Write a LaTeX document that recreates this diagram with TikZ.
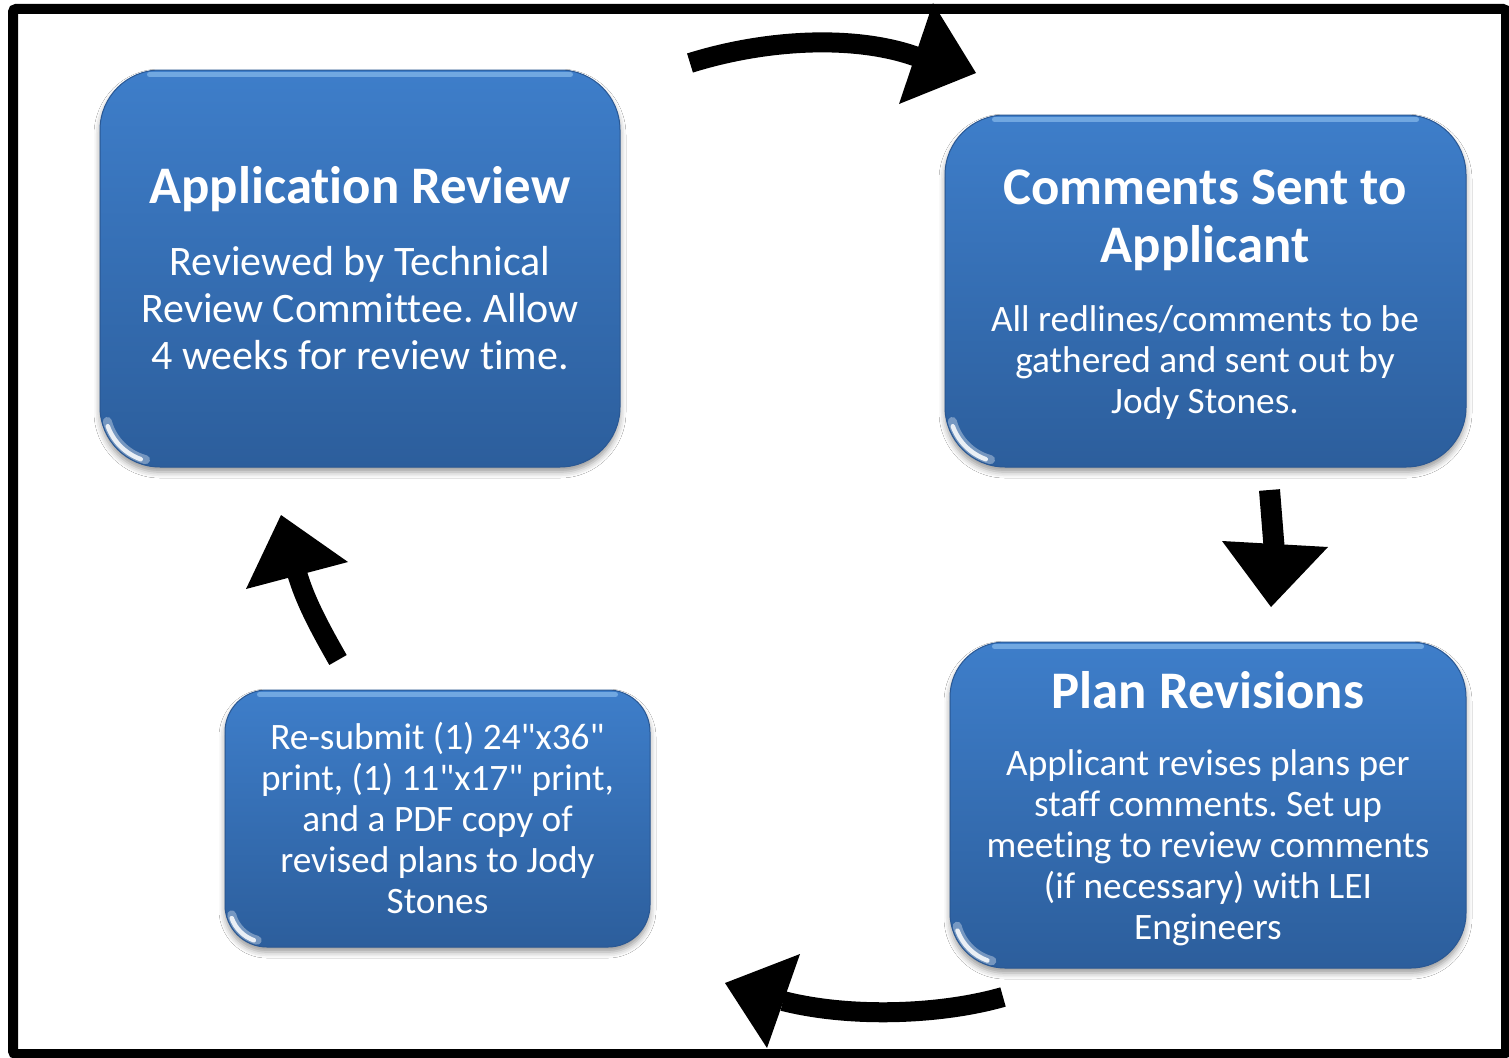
\documentclass[tikz,border=0pt]{standalone}
\usepackage{fontspec}
\setmainfont{Carlito}[Ligatures={ResetAll,NoCommon}]
\usetikzlibrary{shadows.blur,calc}
\frenchspacing
\newcommand\straightq{\XeTeXglyph\XeTeXcharglyph34\relax}
\definecolor{boxtop}{HTML}{3E7ECA}
\definecolor{boxbot}{HTML}{2C5E9C}
\definecolor{boxedge}{HTML}{2A5894}
\definecolor{gloss}{HTML}{9CCBF5}
\tikzset{
  stepbox/.style={rounded corners=#1, top color=boxtop, bottom color=boxbot, draw=boxedge, line width=1pt, inner sep=0pt,
    blur shadow={shadow xshift=0pt, shadow yshift=-5pt, shadow blur radius=6pt, shadow opacity=40}},
  ttl/.style={text=white, font=\fontsize{52.8}{58}\selectfont\bfseries, align=center, inner sep=0pt},
  bodyA/.style={text=white, font=\fontsize{42}{47}\selectfont, align=center, inner sep=0pt},
  bodyB/.style={text=white, font=\fontsize{37.3}{41}\selectfont, align=center, inner sep=0pt},
  fatline/.style={line width=20pt, black},
  headfill/.style={fill=black, draw=none},
  topgloss/.style={gloss, line width=5pt, opacity=0.55, line cap=round},
  cornerglow/.style={white, line width=9pt, opacity=0.35, line cap=round},
  cornergloss/.style={white, line width=4.5pt, opacity=0.85, line cap=round},
}
\begin{document}
\begin{tikzpicture}[x=1pt,y=1pt]
\useasboundingbox (0,0) rectangle (1509,-1057);
\fill[white] (0,0) rectangle (1509,-1057);
% frame
\draw[line width=10pt, rounded corners=3pt] (13,-9) rectangle (1506,-1054);

% boxes
\node[stepbox=60pt, minimum width=520pt, minimum height=397pt] (b1) at (360,-268.5) {};
\node[stepbox=60pt, minimum width=521pt, minimum height=352pt] (b2) at (1205.5,-291) {};
\node[stepbox=55pt, minimum width=516pt, minimum height=326pt] (b3) at (1208,-805) {};
\node[stepbox=42pt, minimum width=425pt, minimum height=257pt] (b4) at (437.5,-818.5) {};

% gloss highlights
\draw[topgloss] ($(b1.north west)+(50,-5)$) -- ($(b1.north east)+(-50,-5)$);
\draw[topgloss] ($(b2.north west)+(50,-5)$) -- ($(b2.north east)+(-50,-5)$);
\draw[topgloss] ($(b3.north west)+(45,-5)$) -- ($(b3.north east)+(-45,-5)$);
\draw[topgloss] ($(b4.north west)+(35,-5)$) -- ($(b4.north east)+(-35,-5)$);

\draw[cornerglow] ($(b1.south west)+(60,60)+(195:54)$) arc[start angle=195, end angle=255, radius=54];
\draw[cornergloss] ($(b1.south west)+(60,60)+(200:55)$) arc[start angle=200, end angle=250, radius=55];
\draw[cornerglow] ($(b2.south west)+(60,60)+(195:54)$) arc[start angle=195, end angle=255, radius=54];
\draw[cornergloss] ($(b2.south west)+(60,60)+(200:55)$) arc[start angle=200, end angle=250, radius=55];
\draw[cornerglow] ($(b3.south west)+(55,55)+(195:49)$) arc[start angle=195, end angle=255, radius=49];
\draw[cornergloss] ($(b3.south west)+(55,55)+(200:50)$) arc[start angle=200, end angle=250, radius=50];
\draw[cornerglow] ($(b4.south west)+(42,42)+(195:36)$) arc[start angle=195, end angle=255, radius=36];
\draw[cornergloss] ($(b4.south west)+(42,42)+(200:37)$) arc[start angle=200, end angle=250, radius=37];

% texts
\node[ttl] (t1) at (360,-189) {Application Review};
\node[bodyA] (d1) at (360,-308) {Reviewed by Technical\\Review Committee. Allow\\4 weeks for review time.};
\node[ttl] (t2) at (1205,-220) {Comments Sent to\\Applicant};
\node[bodyB] (d2) at (1205,-363) {All redlines/comments to be\\gathered and sent out by\\Jody Stones.};
\node[ttl] (t3) at (1208,-690) {Plan Revisions};
\node[bodyB] (d3) at (1208,-848) {Applicant revises plans per\\staff comments. Set up\\meeting to review comments\\(if necessary) with LEI\\Engineers};
\node[bodyB] (d4) at (437.5,-818) {Re-submit (1) 24\straightq x36\straightq\\print, (1) 11\straightq x17\straightq{} print,\\and a PDF copy of\\revised plans to Jody\\Stones};

% arrows
\coordinate (a1s) at (690,-63);
\coordinate (a1e) at (920,-58);
\draw[fatline] (a1s) .. controls (770,-38) and (860,-35) .. (a1e);
\fill[headfill] (933,-3) -- (976,-73) -- (899,-104) -- cycle;

\coordinate (a2s) at (1269.5,-490);
\coordinate (a2e) at (1274,-546);
\draw[line width=21pt] (a2s) -- (a2e);
\fill[headfill] (1222,-541) -- (1328,-547) -- (1271,-607) -- cycle;

\coordinate (a3s) at (1003,-997);
\coordinate (a3e) at (783,-1001);
\draw[fatline] (a3s) .. controls (940,-1015) and (850,-1018) .. (a3e);
\fill[headfill] (800,-954) -- (725,-983) -- (767,-1048) -- cycle;

\coordinate (a4s) at (338,-660);
\coordinate (a4e) at (297,-573);
\draw[fatline] (a4s) .. controls (318,-625) and (305,-600) .. (a4e);
\fill[headfill] (281,-515) -- (348,-562) -- (246,-589) -- cycle;
\end{tikzpicture}
\end{document}
